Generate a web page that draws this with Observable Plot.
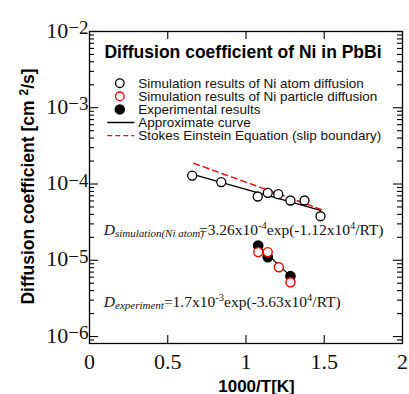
<!DOCTYPE html>
<html><head><meta charset="utf-8">
<script src="https://cdn.jsdelivr.net/npm/d3@7"></script>
<script src="https://cdn.jsdelivr.net/npm/@observablehq/plot@0.6"></script>
<style>
html,body{margin:0;padding:0;background:#fff;}
#chart svg{display:block;}
</style></head><body><div id="chart"></div>
<script>
// ---- data ----
const simAtomX = [0.656, 0.842, 1.075, 1.139, 1.206, 1.284, 1.374, 1.476];
const simAtomY = [1.29e-4, 1.06e-4, 6.86e-5, 7.67e-5, 7.35e-5, 6.08e-5, 6.08e-5, 3.78e-5];
const particleX = [1.078, 1.139, 1.210, 1.284];
const particleY = [1.28e-5, 1.28e-5, 8.1e-6, 5.15e-6];
const expX = [1.078, 1.139, 1.284];
const expY = [1.56e-5, 1.10e-5, 6.18e-6];
const approxSimX = [0.66, 1.476];
const approxSimY = [1.34e-4, 4.5e-5];
const approxExpX = [1.078, 1.284];
const approxExpY = [1.56e-5, 6.2e-6];
const stokesX = [0.666, 1.487];
const stokesY = [1.87e-4, 4.59e-5];

const xTicks = [0, 0.5, 1, 1.5, 2];
const xTickLabels = ["0", "0.5", "1", "1.5", "2"];
const yTicks = [1e-2, 1e-3, 1e-4, 1e-5, 1e-6];
const yTickLabels = ["10^{\u22122}", "10^{\u22123}", "10^{\u22124}", "10^{\u22125}", "10^{\u22126}"];
const legendLabels = [
  "Simulation results of Ni atom diffusion",
  "Simulation results of Ni particle diffusion",
  "Experimental results",
  "Approximate curve",
  "Stokes Einstein Equation (slip boundary)"
];
const titleText = "Diffusion coefficient of Ni in PbBi";
const xLabel = "1000/T[K]";
const yLabel = "Diffusion coefficient [cm ^{2}/s]";
const eqSim = "*{D}_{simulation(Ni atom)}~=3.26x10^{-4}exp(-1.12x10^{4}/RT)";
const eqExp = "*{D}_{experiment}=1.7x10^{-3}exp(-3.63x10^{4}/RT)";

// ---- layout ----
const SANS = "'Liberation Sans', Arial, Helvetica, sans-serif";
const SERIF = "'Liberation Serif', 'Times New Roman', Times, serif";
const W = 409, H = 394, ML = 89, MR = 7, MT = 31, MB = 51;
const xDomain = [0, 2], yDomain = [8.1e-7, 1e-2];
const pw = W - ML - MR, ph = H - MT - MB;
const dxu = px => px * (xDomain[1] - xDomain[0]) / pw;
const decPerPx = Math.log10(yDomain[1] / yDomain[0]) / ph;
const fy = px => Math.pow(10, px * decPerPx);

const yMinor = [];
for (let e = -7; e <= -3; e++) for (let m = 2; m <= 9; m++) {
  const v = m * Math.pow(10, e);
  if (v >= yDomain[0] && v <= yDomain[1]) yMinor.push(v);
}
const xInner = xTicks.slice(1, -1);

const rich = new Map();
rich.set(yLabel, {supSize: 12, supShift: -6});
yTickLabels.forEach(s => rich.set(s, {supSize: 19, supShift: -3.4}));
rich.set(eqSim, {supSize: 10.5, supShift: -5.7, subSize: 11, subShift: 2.7, kern: -5});
rich.set(eqExp, {supSize: 10.5, supShift: -5.7, subSize: 11, subShift: 2.7, kern: -5});

const hline = {draw(ctx, l) { ctx.moveTo(0, 0); ctx.lineTo(0, -l); }};
const rowY = i => 51.7 + 13.1 * i;
const stroke = "black";

const marks = [
  // inward ticks
  Plot.ruleY(yTicks, {x1: 0, x2: dxu(9), stroke, strokeWidth: 1.1}),
  Plot.ruleY(yTicks, {x1: xDomain[1] - dxu(9), x2: xDomain[1], stroke, strokeWidth: 1.1}),
  Plot.ruleY(yMinor, {x1: 0, x2: dxu(5), stroke, strokeWidth: 1.1}),
  Plot.ruleY(yMinor, {x1: xDomain[1] - dxu(5), x2: xDomain[1], stroke, strokeWidth: 1.1}),
  Plot.ruleX(xInner, {y1: yDomain[0], y2: yDomain[0] * fy(8), stroke, strokeWidth: 1.1}),
  Plot.ruleX(xInner, {y1: yDomain[1] / fy(8), y2: yDomain[1], stroke, strokeWidth: 1.1}),
  Plot.frame({stroke, strokeWidth: 1.3}),
  // tick labels
  Plot.text(xTicks, {x: d => d, frameAnchor: "bottom", lineAnchor: "middle", dy: 18,
    text: (d, i) => xTickLabels[i], fontFamily: SERIF, fontSize: 22, fill: "#111"}),
  Plot.text(yTicks, {y: d => d, frameAnchor: "left", lineAnchor: "middle", dx: -1, dy: -1, textAnchor: "end",
    text: (d, i) => yTickLabels[i], fontFamily: SERIF, fontSize: 22, fill: "#111"}),
  // axis titles
  Plot.text([xLabel], {text: d => d, frameAnchor: "bottom", lineAnchor: "middle", textAnchor: "middle",
    dx: 10.5, dy: 43.5, fontFamily: SANS, fontSize: 17, fontWeight: "bold"}),
  Plot.text([yLabel], {text: d => d, frameAnchor: "left", lineAnchor: "middle", textAnchor: "middle",
    dx: -61.5, dy: -1, rotate: -90, fontFamily: SANS, fontSize: 17.5, fontWeight: "bold"}),
  // chart title
  Plot.text([titleText], {text: d => d, frameAnchor: "top", lineAnchor: "middle", textAnchor: "middle",
    dx: -3, dy: 20.9, fontFamily: SANS, fontSize: 17.5, fontWeight: "bold"}),
  // data lines
  Plot.line(stokesX.map((x, i) => ({x, y: stokesY[i]})), {x: "x", y: "y", stroke: "#ff0000",
    strokeWidth: 1.4, strokeDasharray: "6,4"}),
  Plot.line(approxSimX.map((x, i) => ({x, y: approxSimY[i]})), {x: "x", y: "y", stroke, strokeWidth: 1.3}),
  Plot.line(approxExpX.map((x, i) => ({x, y: approxExpY[i]})), {x: "x", y: "y", stroke, strokeWidth: 1.3}),
  // data points
  Plot.dot(simAtomX.map((x, i) => ({x, y: simAtomY[i]})), {x: "x", y: "y", r: 4.5, stroke, fill: "white", strokeWidth: 1.3}),
  Plot.dot(expX.map((x, i) => ({x, y: expY[i]})), {x: "x", y: "y", r: 4.6, fill: "black", stroke}),
  Plot.dot(particleX.map((x, i) => ({x, y: particleY[i]})), {x: "x", y: "y", r: 4.5, stroke: "#ff0000", fill: "white", strokeWidth: 1.4}),
  // equations
  Plot.text([eqSim], {text: d => d, frameAnchor: "top-left", dx: 14.3, dy: 203, lineAnchor: "bottom",
    textAnchor: "start", fontFamily: SERIF, fontSize: 15.5, fill: "#111"}),
  Plot.text([eqExp], {text: d => d, frameAnchor: "top-left", dx: 14.3, dy: 275, lineAnchor: "bottom",
    textAnchor: "start", fontFamily: SERIF, fontSize: 15.5, fill: "#111"}),
  // legend symbols
  Plot.dot([0], {frameAnchor: "top-left", dx: 30.3, dy: rowY(0), r: 4.3, stroke, fill: "white", strokeWidth: 1.3}),
  Plot.dot([0], {frameAnchor: "top-left", dx: 30.3, dy: rowY(1), r: 4.3, stroke: "#ff0000", fill: "white", strokeWidth: 1.3}),
  Plot.dot([0], {frameAnchor: "top-left", dx: 30.3, dy: rowY(2), r: 4.5, fill: "black", stroke}),
  Plot.vector([0], {frameAnchor: "top-left", dx: 18.3, dy: rowY(3), length: 26, rotate: 90, anchor: "start",
    shape: hline, stroke, strokeWidth: 1.3}),
  Plot.vector([0], {frameAnchor: "top-left", dx: 18.3, dy: rowY(4), length: 26, rotate: 90, anchor: "start",
    shape: hline, stroke: "#ff0000", strokeWidth: 1.3, strokeDasharray: "4,4"}),
  ...legendLabels.map((s, i) => Plot.text([s], {text: d => d, frameAnchor: "top-left", dx: 48.7, dy: rowY(i),
    lineAnchor: "middle", textAnchor: "start", fontFamily: SANS, fontSize: 13.5, fill: "#111"}))
];

const svg = Plot.plot({
  width: W, height: H,
  marginLeft: ML, marginRight: MR, marginTop: MT, marginBottom: MB,
  x: {domain: xDomain, axis: null},
  y: {type: "log", domain: yDomain, axis: null},
  style: {fontFamily: SANS, background: "white", overflow: "visible"},
  marks
});

function toTspans(el, cfg) {
  const src = el.textContent;
  el.textContent = "";
  const re = /([\^_*])\{([^}]*)\}|~|([^\^_*~]+)/g;
  let m, shift = 0, pendingDx = 0;
  while ((m = re.exec(src))) {
    if (m[0] === "~") { pendingDx += cfg.kern || 0; continue; }
    const ts = document.createElementNS("http://www.w3.org/2000/svg", "tspan");
    let target = 0, text, size = null, italic = false;
    if (m[1] === "^") { target = cfg.supShift; size = cfg.supSize; text = m[2]; }
    else if (m[1] === "_") { target = cfg.subShift; size = cfg.subSize; text = m[2]; italic = true; }
    else if (m[1] === "*") { text = m[2]; italic = true; }
    else text = m[3];
    if (target !== shift) { ts.setAttribute("dy", target - shift); shift = target; }
    if (pendingDx) { ts.setAttribute("dx", pendingDx); pendingDx = 0; }
    if (size) ts.setAttribute("font-size", size);
    if (italic) ts.setAttribute("font-style", "italic");
    ts.textContent = text;
    el.appendChild(ts);
  }
}
svg.querySelectorAll("text").forEach(el => {
  const cfg = rich.get(el.textContent);
  if (cfg) toTspans(el, cfg);
});

document.getElementById("chart").appendChild(svg);
</script>
</body></html>
